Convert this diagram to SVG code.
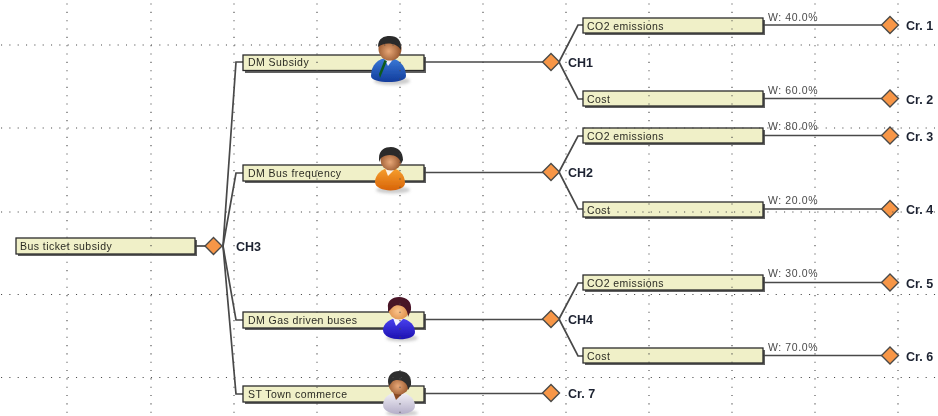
<svg xmlns="http://www.w3.org/2000/svg" width="938" height="416" viewBox="0 0 938 416">
<style>
text{font-family:"Liberation Sans",Arial,sans-serif}
svg>g{filter:url(#b)}
svg>g#grid{filter:none}
.l{font-size:10.500px;letter-spacing:.45px;fill:#2c2c24}
.w{font-size:10.500px;letter-spacing:.6px;fill:#4a4a4a}
.c{font-size:12.500px;font-weight:bold;fill:#1c2230}
.box{fill:#f0f0c8;stroke:#2c2c2c;stroke-width:1.300}
.sh{fill:#444;opacity:.85}
.d{fill:#f79646;stroke:#4a4a48;stroke-width:1.400}
#connectors path{fill:none;stroke:#484848;stroke-width:1.700}
#grid line{stroke:#4a4a4a;stroke-width:1.100;stroke-dasharray:1.100 7.230}
.skin{fill:url(#skin)}
</style>
<defs>
<filter id="b" x="-5%" y="-5%" width="110%" height="110%"><feGaussianBlur stdDeviation=".3"/></filter>
<radialGradient id="skin" cx=".45" cy=".6" r=".6"><stop offset="0" stop-color="#e8a878"/><stop offset="1" stop-color="#8a4a22"/></radialGradient>
<radialGradient id="skinL" cx=".45" cy=".6" r=".6"><stop offset="0" stop-color="#fbc48c"/><stop offset="1" stop-color="#d8843c"/></radialGradient>
<linearGradient id="blue" x1="0" y1="0" x2="0" y2="1"><stop offset="0" stop-color="#3a7ad8"/><stop offset="1" stop-color="#123c9c"/></linearGradient>
<linearGradient id="orange" x1="0" y1="0" x2="0" y2="1"><stop offset="0" stop-color="#f7a030"/><stop offset="1" stop-color="#d86408"/></linearGradient>
<linearGradient id="violet" x1="0" y1="0" x2="0" y2="1"><stop offset="0" stop-color="#4a42f0"/><stop offset="1" stop-color="#1c10b0"/></linearGradient>
<linearGradient id="white" x1="0" y1="0" x2="0" y2="1"><stop offset="0" stop-color="#f4f2f8"/><stop offset="1" stop-color="#b4aec8"/></linearGradient>
<filter id="soft" x="-20%" y="-50%" width="140%" height="200%"><feGaussianBlur stdDeviation="1.600"/></filter>
<path id="dia" class="d" d="M0-8.500 8.500 0 0 8.500-8.500 0Z"/>
</defs>
<rect width="938" height="416" fill="#fff"/>
<g id="connectors">
<path d="M195 246H206"/>
<path d="M223 246 236 62H243"/>
<path d="M223 246 236 173H243"/>
<path d="M223 246 236 320H243"/>
<path d="M223 246 236 394H243"/>
<path d="M424 62H543"/>
<path d="M424 172.500H543"/>
<path d="M424 319.500H543"/>
<path d="M424 393.500H543"/>
<path d="M559 62 578 25H583"/>
<path d="M559 62 578 99H583"/>
<path d="M559 172 578 136H583"/>
<path d="M559 172 578 209H583"/>
<path d="M559 319 578 283H583"/>
<path d="M559 319 578 356H583"/>
<path d="M763 25H882"/>
<path d="M763 98.500H882"/>
<path d="M763 135.500H882"/>
<path d="M763 209H882"/>
<path d="M763 282.500H882"/>
<path d="M763 355.500H882"/>
</g>
<g id="n-root"><rect class="sh" x="18" y="240" width="179" height="16"/><rect class="box" x="16" y="238" width="179" height="16"/><text class="l" x="20" y="250">Bus ticket subsidy</text></g>
<g id="n-ch3"><use href="#dia" x="213.500" y="246"/><text class="c" x="236" y="251">CH3</text></g>
<g id="n-dm1"><rect class="sh" x="245" y="57" width="181" height="16"/><rect class="box" x="243" y="55" width="181" height="15.500"/><text class="l" x="248" y="66">DM Subsidy</text>
<ellipse cx="392" cy="81" rx="18" ry="4" fill="#999" opacity=".5" filter="url(#soft)"/>
<path d="M371 76C371 65 378 58 388 58 398 58 406 65 406 76 406 84 371 84 371 76Z" fill="url(#blue)"/><path d="M384 58 394 58 388 66Z" fill="#eef"/><path d="M384.500 60 387 61 380 78 379 74Z" fill="#0c5a1c"/>
<circle cx="390" cy="49" r="11.500" class="skin"/><path d="M378 47C378 38 384 36 390 36 397 36 402 40 401 50 396 42 384 42 378 47Z" fill="#2a2a2a"/></g>
<g id="n-dm2"><rect class="sh" x="245" y="167" width="181" height="16"/><rect class="box" x="243" y="165" width="181" height="16"/><text class="l" x="248" y="176.500">DM Bus frequency</text>
<ellipse cx="393" cy="190" rx="17" ry="3.500" fill="#999" opacity=".5" filter="url(#soft)"/>
<path d="M375 182C375 174 383 168 390 168 398 168 405 174 405 183 405 193 375 193 375 182Z" fill="url(#orange)"/><path d="M385 168 396 168 388 176Z" fill="#fdf3e4"/>
<circle cx="391" cy="160" r="10.500" class="skin"/><path d="M379 158C379 150 385 147 391 147 398 147 403 152 403 160L401 164C400 154 387 153 381 158L379 162Z" fill="#2a2a2a"/></g>
<g id="n-dm3"><rect class="sh" x="245" y="314" width="181" height="16"/><rect class="box" x="243" y="312" width="181" height="16"/><text class="l" x="248" y="323.500">DM Gas driven buses</text>
<ellipse cx="402" cy="338" rx="16" ry="3.500" fill="#999" opacity=".5" filter="url(#soft)"/>
<path d="M383 330C383 323 391 318 398 318 406 318 415 323 415 332 415 342 383 342 383 330Z" fill="url(#violet)"/><path d="M393 318 404 318 396 326Z" fill="#f4f4ff"/>
<circle cx="399" cy="309" r="10.500" fill="url(#skinL)"/><path d="M388 308C387 301 392 297 399 297 407 297 412 302 411 310L408 317C408 305 397 303 393 307 391 309 390 310 388 312Z" fill="#4a1226"/></g>
<g id="n-st"><rect class="sh" x="245" y="388" width="181" height="16"/><rect class="box" x="243" y="386" width="181" height="16"/><text class="l" x="248" y="397.500">ST Town commerce</text>
<ellipse cx="402" cy="413" rx="16" ry="3" fill="#999" opacity=".5" filter="url(#soft)"/>
<path d="M383 405C383 397 391 392 398 392 406 392 415 397 415 406 415 417 383 417 383 405Z" fill="url(#white)"/><path d="M393 392 404 392 396 400Z" fill="#8a4a22"/>
<circle cx="399" cy="384" r="10.500" class="skin"/><path d="M388 382C388 375 392 371 399 371 407 371 412 376 411 385L408 390C408 380 396 378 392 382L389 386Z" fill="#2e2e2e"/></g>
<g id="n-ch1"><use href="#dia" x="551" y="62"/><text class="c" x="568" y="67">CH1</text></g>
<g id="n-ch2"><use href="#dia" x="551" y="172"/><text class="c" x="568" y="177">CH2</text></g>
<g id="n-ch4"><use href="#dia" x="551" y="319"/><text class="c" x="568" y="324">CH4</text></g>
<g id="n-cr7"><use href="#dia" x="551" y="393"/><text class="c" x="568" y="398">Cr. 7</text></g>
<g id="n-a1"><rect class="sh" x="585" y="20" width="180" height="15"/><rect class="box" x="583" y="18" width="180" height="15"/><text class="l" x="587" y="29.500">CO2 emissions</text></g>
<g id="n-a2"><rect class="sh" x="585" y="93" width="180" height="15"/><rect class="box" x="583" y="91" width="180" height="15"/><text class="l" x="587" y="103">Cost</text></g>
<g id="n-a3"><rect class="sh" x="585" y="130" width="180" height="15"/><rect class="box" x="583" y="128" width="180" height="15"/><text class="l" x="587" y="140">CO2 emissions</text></g>
<g id="n-a4"><rect class="sh" x="585" y="204" width="180" height="15"/><rect class="box" x="583" y="202" width="180" height="15"/><text class="l" x="587" y="214">Cost</text></g>
<g id="n-a5"><rect class="sh" x="585" y="277" width="180" height="15"/><rect class="box" x="583" y="275" width="180" height="15"/><text class="l" x="587" y="287">CO2 emissions</text></g>
<g id="n-a6"><rect class="sh" x="585" y="350" width="180" height="15"/><rect class="box" x="583" y="348" width="180" height="15"/><text class="l" x="587" y="360">Cost</text></g>
<g id="n-c1"><text class="w" x="768" y="21">W: 40.0%</text><use href="#dia" x="890" y="25"/><text class="c" x="906" y="30">Cr. 1</text></g>
<g id="n-c2"><text class="w" x="768" y="94">W: 60.0%</text><use href="#dia" x="890" y="98.500"/><text class="c" x="906" y="104">Cr. 2</text></g>
<g id="n-c3"><text class="w" x="768" y="130">W: 80.0%</text><use href="#dia" x="890" y="135.500"/><text class="c" x="906" y="141">Cr. 3</text></g>
<g id="n-c4"><text class="w" x="768" y="204">W: 20.0%</text><use href="#dia" x="890" y="209"/><text class="c" x="906" y="214">Cr. 4</text></g>
<g id="n-c5"><text class="w" x="768" y="277">W: 30.0%</text><use href="#dia" x="890" y="282.500"/><text class="c" x="906" y="288">Cr. 5</text></g>
<g id="n-c6"><text class="w" x="768" y="351">W: 70.0%</text><use href="#dia" x="890" y="355.500"/><text class="c" x="906" y="361">Cr. 6</text></g>
<g id="grid">
<line x1="1" y1="45" x2="938" y2="45"/><line x1="1" y1="128" x2="938" y2="128"/><line x1="1" y1="212" x2="938" y2="212"/><line x1="1" y1="294.500" x2="938" y2="294.500"/><line x1="1" y1="377.500" x2="938" y2="377.500"/>
<line x1="67" y1="3.500" x2="67" y2="416"/><line x1="151" y1="3.500" x2="151" y2="416"/><line x1="234" y1="3.500" x2="234" y2="416"/><line x1="317" y1="3.500" x2="317" y2="416"/><line x1="400" y1="3.500" x2="400" y2="416"/><line x1="483" y1="3.500" x2="483" y2="416"/><line x1="566" y1="3.500" x2="566" y2="416"/><line x1="649" y1="3.500" x2="649" y2="416"/><line x1="732" y1="3.500" x2="732" y2="416"/><line x1="815" y1="3.500" x2="815" y2="416"/><line x1="898" y1="3.500" x2="898" y2="416"/>
</g>
</svg>
